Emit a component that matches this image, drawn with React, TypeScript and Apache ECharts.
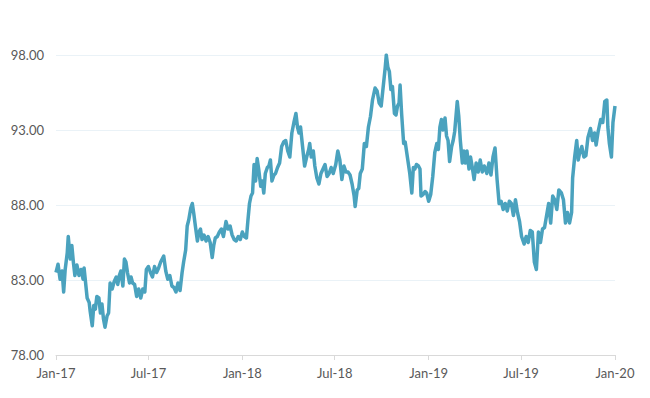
import React, { useEffect, useRef } from "react";
import * as echarts from "echarts";

// Day offsets from 2017-01-01
const days = [
  0, 4, 8, 12, 15, 18, 22, 24, 28, 31, 34, 37, 41, 45, 49, 53, 55, 58, 61, 65, 67, 71, 74, 77, 80, 84, 87, 90, 93, 96,
  100, 103, 106, 110, 114, 118, 121, 124, 127, 131, 134, 137, 140, 144, 147, 150, 154, 158, 162, 166, 170, 174, 177,
  181, 185, 189, 193, 197, 201, 205, 211, 215, 219, 223, 227, 231, 235, 239, 243, 247, 250, 254, 257, 260, 264, 267,
  270, 273, 277, 280, 283, 286, 290, 294, 298, 302, 306, 309, 312, 316, 320, 324, 328, 333, 337, 341, 345, 349, 353,
  357, 361, 365, 369, 373, 376, 379, 382, 385, 388, 391, 394, 397, 401, 404, 407, 410, 414, 417, 420, 423, 427, 430,
  434, 438, 442, 446, 450, 454, 458, 462, 466, 470, 473, 476, 479, 483, 487, 491, 495, 497, 500, 504, 507, 511, 515,
  519, 523, 527, 531, 535, 539, 543, 548, 552, 556, 560, 564, 568, 572, 576, 580, 584, 586, 590, 593, 596, 600, 604,
  608, 612, 616, 620, 625, 629, 633, 637, 641, 645, 647, 650, 653, 656, 659, 663, 666, 669, 672, 674, 677, 681, 684,
  687, 690, 693, 697, 700, 703, 706, 710, 713, 715, 719, 723, 726, 730, 734, 738, 742, 746, 749, 752, 755, 758, 762,
  765, 768, 771, 775, 778, 781, 786, 789, 792, 796, 799, 802, 805, 809, 812, 815, 819, 823, 827, 831, 835, 839, 844,
  848, 852, 856, 860, 864, 868, 872, 876, 880, 884, 888, 892, 896, 900, 904, 908, 912, 917, 921, 925, 929, 933, 937,
  941, 945, 949, 953, 957, 961, 965, 969, 973, 977, 981, 985, 990, 994, 998, 1002, 1006, 1010, 1012, 1016, 1020, 1023,
  1026, 1030, 1034, 1038, 1042, 1047, 1051, 1055, 1058, 1062, 1067, 1071, 1075, 1079, 1081, 1084, 1088, 1091, 1095,
];

const values = [
  83.5, 84.05, 83.05, 83.6, 82.2, 83.7, 84.8, 85.9, 84.4, 85.3, 84.2, 83.3, 84.0, 83.3, 83.7, 83.05, 83.8, 82.8, 81.8,
  81.5, 80.9, 79.95, 81.3, 81.05, 81.9, 81.8, 80.8, 81.4, 80.4, 79.85, 80.6, 80.8, 82.8, 82.4, 82.9, 83.2, 82.7, 83.3,
  83.6, 82.6, 84.4, 84.2, 83.5, 82.8, 83.2, 82.8, 82.7, 81.9, 82.4, 81.8, 82.4, 82.2, 83.7, 83.9, 83.5, 83.2, 83.9,
  83.5, 83.8, 84.2, 84.6, 83.6, 83.05, 83.3, 82.6, 82.5, 82.2, 82.8, 82.3, 83.5, 84.2, 85.0, 86.6, 87.0, 87.8, 88.1,
  87.4, 86.6, 85.6, 86.2, 86.4, 85.7, 86.0, 85.6, 85.9, 85.5, 84.5, 85.3, 85.8, 85.9, 86.2, 86.4, 85.9, 86.9, 86.4,
  86.6, 86.0, 85.7, 85.6, 85.9, 85.7, 86.2, 85.9, 85.8, 87.0, 88.1, 88.6, 88.8, 90.7, 89.6, 91.1, 90.4, 89.25, 89.6,
  88.8, 90.1, 90.5, 90.6, 91.0, 89.6, 90.0, 90.1, 90.5, 90.8, 91.9, 92.2, 92.3, 91.6, 91.2, 92.8, 93.5, 94.1, 93.2,
  92.8, 93.2, 91.9, 90.6, 91.2, 91.7, 92.1, 91.2, 91.6, 90.6, 89.8, 89.4, 90.1, 90.4, 90.7, 89.9, 90.1, 90.5, 90.1,
  90.7, 91.6, 91.0, 89.7, 90.6, 90.2, 90.2, 90.0, 89.4, 88.6, 87.9, 89.0, 89.1, 90.1, 90.4, 92.1, 91.9, 93.2, 93.9,
  95.0, 95.8, 95.6, 94.8, 94.6, 95.9, 97.2, 98.0, 97.2, 96.9, 95.7, 95.9, 94.1, 94.0, 94.6, 94.8, 96.0, 94.1, 92.1,
  92.2, 91.5, 90.8, 90.1, 88.8, 90.5, 90.4, 90.7, 90.6, 90.4, 88.6, 88.7, 88.9, 88.8, 88.25, 88.7, 89.9, 91.5, 92.1,
  91.7, 93.2, 93.7, 93.0, 93.8, 92.6, 92.3, 90.9, 91.9, 92.3, 92.9, 94.9, 93.9, 92.3, 90.8, 91.6, 90.8, 91.6, 90.4,
  91.2, 90.6, 89.7, 90.8, 90.2, 91.0, 90.2, 90.6, 90.1, 90.8, 90.0, 91.2, 91.8, 89.7, 88.1, 88.25, 87.7, 88.1, 87.6,
  88.25, 88.1, 87.3, 88.35, 87.5, 86.9, 85.9, 85.4, 85.9, 85.5, 86.3, 86.2, 84.2, 83.7, 86.2, 85.5, 86.4, 86.5, 87.3,
  88.1, 86.8, 88.6, 88.35, 87.7, 89.0, 88.8, 88.35, 86.8, 87.5, 86.8, 87.5, 89.8, 91.2, 92.3, 91.0, 91.5, 91.9, 91.2,
  91.3, 92.5, 93.1, 92.3, 92.8, 92.0, 92.9, 93.7, 93.5, 94.9, 95.0, 93.2, 92.1, 91.2, 93.5, 94.6,
];

const tickDays = [0, 181, 365, 546, 730, 911, 1095];
const tickLabels = ["Jan-17", "Jul-17", "Jan-18", "Jul-18", "Jan-19", "Jul-19", "Jan-20"];

export default function App() {
  const ref = useRef<HTMLDivElement>(null);
  useEffect(() => {
    document.body.style.margin = "0";
    if (!ref.current) return;
    const chart = echarts.init(ref.current, undefined, { renderer: "svg" });
    const font = "Lato, 'Open Sans', sans-serif";
    chart.setOption({
      animation: false,
      grid: { left: 56, right: 35, top: 55, bottom: 43, containLabel: false },
      xAxis: {
        type: "value",
        min: 0,
        max: 1095,
        splitLine: { show: false },
        axisLine: { show: true, lineStyle: { color: "#d9d9d9", width: 1 } },
        axisTick: { show: true, customValues: tickDays, length: 5, lineStyle: { color: "#d9d9d9" } },
        axisLabel: {
          customValues: tickDays,
          margin: 11,
          color: "#595959",
          fontFamily: font,
          fontSize: 13,
          formatter: (v: number) => {
            const i = tickDays.indexOf(Math.round(v));
            return i >= 0 ? tickLabels[i] : "";
          },
        },
      },
      yAxis: {
        type: "value",
        min: 78,
        max: 98,
        interval: 5,
        axisLine: { show: false },
        axisTick: { show: false },
        splitLine: { lineStyle: { color: "#eaf2f7", width: 1 } },
        axisLabel: {
          margin: 12,
          color: "#595959",
          fontFamily: font,
          fontSize: 13,
          formatter: (v: number) => v.toFixed(2),
        },
      },
      series: [
        {
          type: "line",
          data: days.map((d, i) => [d, values[i]]),
          showSymbol: false,
          symbol: "none",
          lineStyle: { color: "#4aa2be", width: 3.5, join: "round" },
        },
      ],
    });
    return () => chart.dispose();
  }, []);
  return <div ref={ref} style={{ width: 650, height: 398 }} />;
}
